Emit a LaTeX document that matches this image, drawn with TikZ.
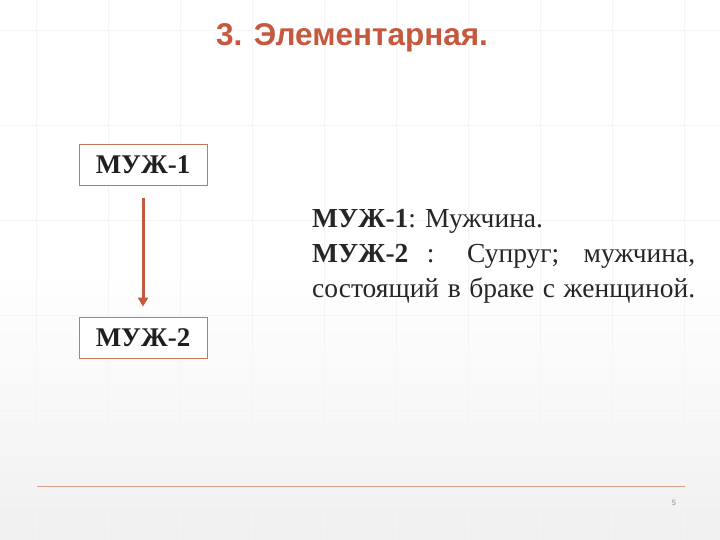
\documentclass[tikz,border=0pt]{standalone}
\usepackage{fontspec}
\setmainfont{Liberation Serif}
\newfontfamily\titlefont{Liberation Sans}
\usetikzlibrary{arrows.meta}
\definecolor{accent}{RGB}{198,88,62}
\definecolor{boxline}{RGB}{196,120,90}
\definecolor{ruleline}{RGB}{214,160,135}
\definecolor{gridc}{RGB}{244,244,244}
\tikzset{
  termbox/.style={draw=boxline, line width=0.8pt, minimum width=128pt, minimum height=41pt, inner sep=0pt, font=\fontsize{27}{31}\selectfont\bfseries, text=black!88},
  defline/.style={anchor=base west, inner sep=0pt, font=\fontsize{27.5}{31}\selectfont, text=black!85},
  linkarrow/.style={draw=accent, line width=3pt, -{Triangle[width=10pt,length=9pt]}}
}
\begin{document}
\begin{tikzpicture}[x=1pt,y=-1pt]
\useasboundingbox (0,0) rectangle (720,540);
\shade[top color=white, bottom color=black!6, middle color=white] (0,0) rectangle (720,540);
\foreach \gx in {36,108,...,684} \draw[gridc, line width=0.6pt] (\gx,0) -- (\gx,540);
\foreach \gy in {30,125,220,315,410,505} \draw[gridc, line width=0.6pt] (0,\gy) -- (720,\gy);
\node[font=\titlefont\fontsize{31.5}{35}\selectfont\bfseries, text=accent, anchor=base] (title) at (352,46) {3. Элементарная.};
\node[termbox, fill=white] (m1) at (143,164.5) {МУЖ-1};
\node[termbox, fill=white] (m2) at (143,337.5) {МУЖ-2};
\draw[linkarrow, shorten <=13pt, shorten >=10pt] (m1.south) -- (m2.north);
\node[defline] (d1) at (312,227) {\textbf{МУЖ-1}: Мужчина.};
\node[defline] (d2) at (312,262) {\makebox[383pt][s]{\textbf{МУЖ-2} : Супруг; мужчина,}};
\node[defline] (d3) at (312,297) {\makebox[383pt][s]{состоящий в браке с женщиной.}};
\coordinate (r1) at (37,486);
\coordinate (r2) at (685,486);
\draw[ruleline, line width=1pt] (r1) -- (r2);
\node[font=\sffamily\fontsize{8}{9}\selectfont, text=black!45] (pg) at (674,503) {5};
\end{tikzpicture}
\end{document}
